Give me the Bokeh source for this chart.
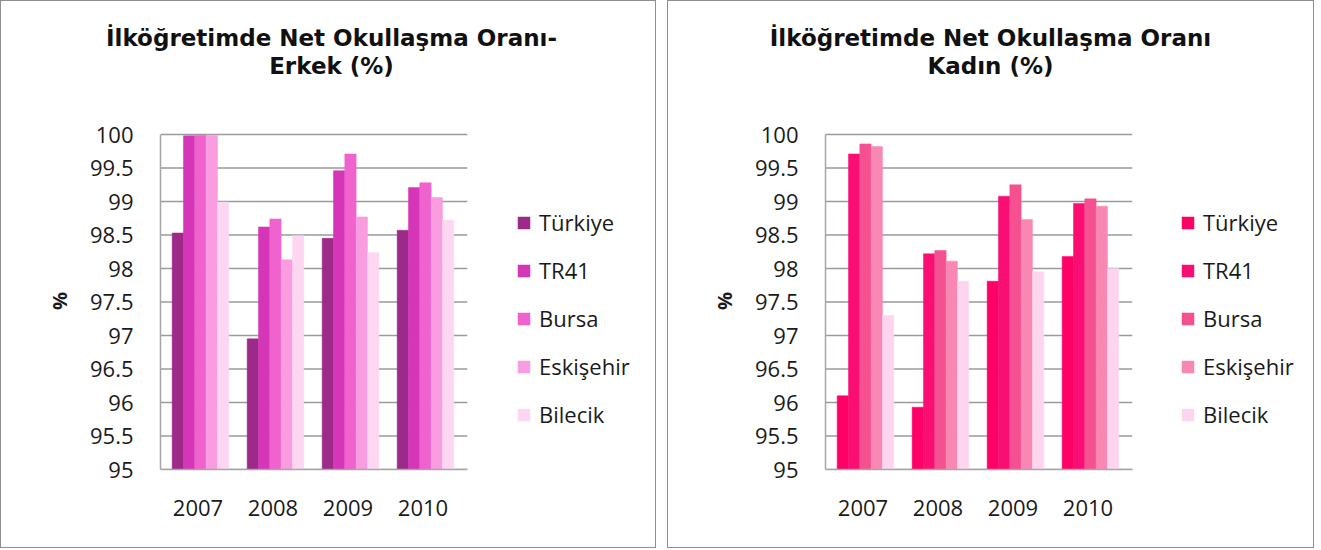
from bokeh.plotting import figure
from bokeh.models import (Range1d, FixedTicker, CustomJSTickFormatter, Legend, LegendItem,
                          Label, Row, Column, ColumnDataSource)
from bokeh.embed import file_html
from bokeh.resources import INLINE

years = ["2007", "2008", "2009", "2010"]
series = ["Türkiye", "TR41", "Bursa", "Eskişehir", "Bilecik"]

# Erkek (male)
erkek_turkiye = [98.53, 96.95, 98.45, 98.57]
erkek_tr41 = [99.98, 98.62, 99.46, 99.21]
erkek_bursa = [99.99, 98.74, 99.71, 99.28]
erkek_eskisehir = [99.99, 98.13, 98.77, 99.06]
erkek_bilecik = [98.99, 98.49, 98.24, 98.72]

# Kadın (female)
kadin_turkiye = [96.10, 95.93, 97.81, 98.18]
kadin_tr41 = [99.71, 98.22, 99.08, 98.97]
kadin_bursa = [99.86, 98.27, 99.25, 99.04]
kadin_eskisehir = [99.82, 98.11, 98.73, 98.93]
kadin_bilecik = [97.30, 97.81, 97.95, 98.00]

y_ticks = [95, 95.5, 96, 96.5, 97, 97.5, 98, 98.5, 99, 99.5, 100]

title_left = ["İlköğretimde Net Okullaşma Oranı-", "Erkek (%)"]
title_right = ["İlköğretimde Net Okullaşma Oranı", "Kadın (%)"]

colors_left = ["#9C2A88", "#D535B7", "#F062CE", "#F99CE0", "#FDD7F1"]
colors_right = ["#FF0066", "#F90F74", "#F5508F", "#F888B3", "#FDD5EF"]

FONT = "Open Sans"
TITLE_FONT = "DejaVu Sans"

TOTAL_H = 546
TITLE_H = 101
CHART_H = TOTAL_H - TITLE_H
TOP = 30
BOTTOM = 78
Y_END = 100.03
PX_PER_CAT = 75.0


def no_align(fig):
    if "frame_align" in fig.properties():
        fig.frame_align = False


def make_panel(values, colors, titles, width, min_left, title_cx, legend_px):
    # ---- title strip ----
    t = figure(x_range=Range1d(0, width), y_range=Range1d(0, TITLE_H),
               width=width, height=TITLE_H, min_border=0,
               x_axis_location=None, y_axis_location=None,
               output_backend="svg", toolbar_location=None)
    no_align(t)
    t.outline_line_color = None
    t.xgrid.visible = False
    t.ygrid.visible = False
    for line, yy in zip(titles, [TITLE_H - 36, TITLE_H - 64]):
        t.add_layout(Label(x=title_cx, y=yy, text=line,
                           text_font=TITLE_FONT, text_font_style="bold", text_font_size="23px",
                           text_align="center", text_baseline="middle", text_color="#111111"))

    # ---- chart ----
    frame_w = width - min_left
    x_end = frame_w / PX_PER_CAT
    p = figure(x_range=Range1d(0, x_end), y_range=Range1d(95, Y_END),
               width=width, height=CHART_H,
               min_border_left=min_left, min_border_right=0,
               min_border_top=TOP, min_border_bottom=BOTTOM,
               output_backend="svg", toolbar_location=None)
    no_align(p)
    p.outline_line_color = None
    p.xgrid.grid_line_color = None
    p.ygrid.grid_line_color = None

    grid_end = len(years) + 0.09
    p.segment(x0=[0] * len(y_ticks), x1=[grid_end] * len(y_ticks), y0=y_ticks, y1=y_ticks,
              line_color="#9a9a9a", line_width=1.6)

    bw = 0.151
    offsets = [-2 * bw, -bw, 0, bw, 2 * bw]
    centers = [i + 0.5 for i in range(len(years))]
    items = []
    for i, v in enumerate(values):
        src = ColumnDataSource({"x": [c + offsets[i] + 0.033 for c in centers], "top": v})
        r = p.vbar(x="x", top="top", bottom=95, width=bw, source=src,
                   fill_color=colors[i], line_color=colors[i], line_width=0.5)
        items.append(LegendItem(label=series[i], renderers=[r]))

    p.yaxis.ticker = FixedTicker(ticks=y_ticks)
    p.yaxis.bounds = (95, 100)
    p.yaxis.formatter = CustomJSTickFormatter(code="return String(tick)")
    p.yaxis.major_tick_line_color = None
    p.yaxis.minor_tick_line_color = None
    p.yaxis.major_tick_out = 0
    p.yaxis.major_tick_in = 0
    p.yaxis.axis_line_color = "#a6a6a6"
    p.yaxis.axis_line_width = 1.5
    p.yaxis.major_label_standoff = 27
    p.yaxis.major_label_text_font = FONT
    p.yaxis.major_label_text_font_size = "22px"
    p.yaxis.major_label_text_color = "#1a1a1a"
    p.yaxis.axis_label = "%"
    p.yaxis.axis_label_text_font = FONT
    p.yaxis.axis_label_text_font_style = "bold"
    p.yaxis.axis_label_text_font_size = "20px"
    p.yaxis.axis_label_text_color = "#1a1a1a"
    p.yaxis.axis_label_standoff = 14

    p.xaxis.ticker = FixedTicker(ticks=centers)
    p.xaxis.major_label_overrides = {c: y for c, y in zip(centers, years)}
    p.xaxis.bounds = (0, grid_end)
    p.xaxis.major_tick_line_color = None
    p.xaxis.minor_tick_line_color = None
    p.xaxis.major_tick_out = 0
    p.xaxis.major_tick_in = 0
    p.xaxis.axis_line_color = "#a6a6a6"
    p.xaxis.axis_line_width = 1.5
    p.xaxis.major_label_standoff = 30
    p.xaxis.major_label_text_font = FONT
    p.xaxis.major_label_text_font_size = "22px"
    p.xaxis.major_label_text_color = "#1a1a1a"

    legend = Legend(items=items, location=(legend_px, 40), orientation="vertical",
                    glyph_width=15, glyph_height=15, label_standoff=8, spacing=18,
                    padding=0, margin=0, border_line_color=None, background_fill_alpha=0,
                    label_text_font=FONT, label_text_font_size="22px",
                    label_text_color="#1a1a1a")
    p.add_layout(legend, "center")

    return Column(children=[t, p], spacing=0, styles={"border": "1px solid #8f8f8f"})


left = make_panel([erkek_turkiye, erkek_tr41, erkek_bursa, erkek_eskisehir, erkek_bilecik],
                  colors_left, title_left, 654, 159, 330, 356)
right = make_panel([kadin_turkiye, kadin_tr41, kadin_bursa, kadin_eskisehir, kadin_bilecik],
                   colors_right, title_right, 645, 157, 322, 355)

layout = Row(children=[left, right], spacing=11)

open("out.html", "w").write(file_html(layout, INLINE))
